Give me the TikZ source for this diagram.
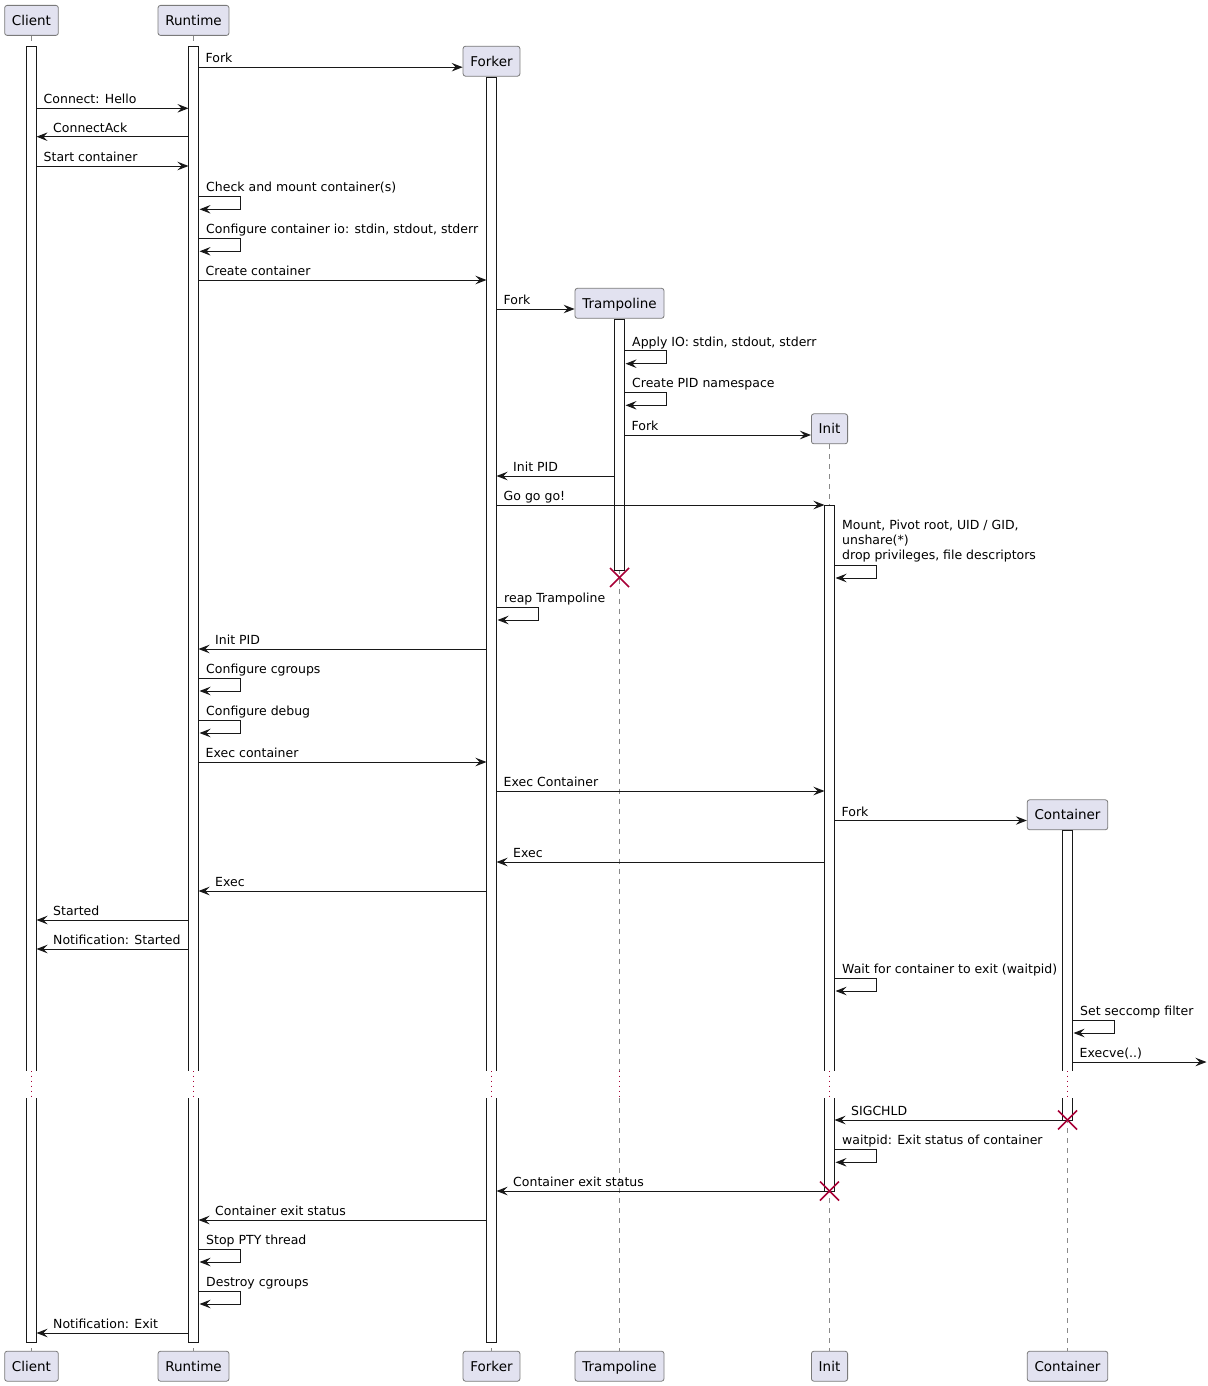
\documentclass[tikz,border=0pt]{standalone}
\usepackage{fontspec}
\setmainfont{DejaVu Sans}
\usetikzlibrary{arrows.meta,calc}
\definecolor{lineC}{HTML}{181818}
\definecolor{boxF}{HTML}{E2E2F0}
\definecolor{boxB}{HTML}{7A7A7A}
\definecolor{lifeC}{HTML}{8A8A8A}
\definecolor{killC}{HTML}{A80036}
% rightward message: name, x-start, x-end, y, label
\newcommand\rmsg[5]{\coordinate (#1s) at (#2,#4); \coordinate (#1e) at (#3,#4); \draw[msg] (#1s) -- (#1e); \node[lbl] (#1t) at (#2+7,#4-4.5) {#5};}
% leftward message: name, x-start, x-end, y, label
\newcommand\lmsg[5]{\coordinate (#1s) at (#2,#4); \coordinate (#1e) at (#3,#4); \draw[msg] (#1s) -- (#1e); \node[lbl] (#1t) at (#3+16.5,#4-4.5) {#5};}
% self message: name, bar right x, y, label
\newcommand\smsg[4]{\coordinate (#1s) at (#2,#3); \coordinate (#1a) at (#2+42,#3); \coordinate (#1b) at (#2+42,#3+13); \coordinate (#1e) at (#2+1,#3+13); \draw[msg] (#1s) -- (#1a) -- (#1b) -- (#1e); \node[lbl] (#1t) at (#2+7.5,#3-4.5) {#4};}
% lifeline: participant prefix
\newcommand\lifeln[1]{\draw[life] (#1T.south) -- (#1T.south |- 0,1070.7); \draw[delayln] (#1T.south |- 0,1070.7) -- (#1T.south |- 0,1098); \draw[life] (#1T.south |- 0,1098) -- (#1B.north);}
% open-bottom bar: x centre, top, bottom
\newcommand\barA[3]{\fill[white] (#1-5,#2) rectangle (#1+5,#3); \draw[barside] (#1-5,#3) -- (#1-5,#2) -- (#1+5,#2) -- (#1+5,#3);}
% open-top bar: x centre, top, bottom
\newcommand\barB[3]{\fill[white] (#1-5,#2) rectangle (#1+5,#3); \draw[barside] (#1-5,#2) -- (#1-5,#3) -- (#1+5,#3) -- (#1+5,#2);}
% closed bar
\newcommand\barC[3]{\filldraw[barside,fill=white] (#1-5,#2) rectangle (#1+5,#3);}
\newcommand\killx[3]{\coordinate (#1) at (#2,#3); \draw[kill] ($(#1)+(-9.5,-9.5)$) -- ($(#1)+(9.5,9.5)$); \draw[kill] ($(#1)+(-9.5,9.5)$) -- ($(#1)+(9.5,-9.5)$);}
\begin{document}
\begin{tikzpicture}[x=1pt,y=-1pt,
  participant/.style={draw=boxB, line width=0.8pt, fill=boxF, rounded corners=2.5pt,
    minimum height=30pt, inner xsep=7.3pt, inner ysep=0pt, text height=9.8pt, text depth=0pt,
    font=\fontsize{13.5}{16}\selectfont},
  msg/.style={draw=lineC, line width=1pt, -{Stealth[length=11pt,width=8.5pt,inset=4pt]}},
  lbl/.style={anchor=base west, inner sep=0pt, font=\fontsize{12.5}{15}\selectfont},
  life/.style={draw=lifeC, line width=0.8pt, dash pattern=on 5pt off 5pt},
  delayln/.style={draw=killC, line width=1pt, dash pattern=on 1pt off 4pt},
  barside/.style={draw=lineC, line width=1pt},
  kill/.style={draw=killC, line width=1.5pt}]
\useasboundingbox (0,0) rectangle (1207,1386);

% participants
\node[participant] (cT) at (31.5,20.4) {Client};
\node[participant] (rT) at (193.5,20.4) {Runtime};
\node[participant] (fT) at (491.5,61.2) {Forker};
\node[participant] (tT) at (619.5,303.3) {Trampoline};
\node[participant] (iT) at (829.5,428.8) {Init};
\node[participant] (kT) at (1067.5,814.8) {Container};
\node[participant] (cB) at (31.5,1366.2) {Client};
\node[participant] (rB) at (193.5,1366.2) {Runtime};
\node[participant] (fB) at (491.5,1366.2) {Forker};
\node[participant] (tB) at (619.5,1366.2) {Trampoline};
\node[participant] (iB) at (829.5,1366.2) {Init};
\node[participant] (kB) at (1067.5,1366.2) {Container};

% lifelines
\lifeln{c}\lifeln{r}\lifeln{f}\lifeln{t}\lifeln{i}\lifeln{k}

% activation bars
\barA{31.5}{46.7}{1070.7}\barB{31.5}{1098}{1342.7}
\barA{193.5}{46.7}{1070.7}\barB{193.5}{1098}{1342.7}
\barA{491.5}{77.3}{1070.7}\barB{491.5}{1098}{1342.7}
\barC{619.5}{319.3}{570.7}
\barA{829.5}{505}{1070.7}\barB{829.5}{1098}{1191}
\barA{1067.5}{830.3}{1070.7}\barB{1067.5}{1098}{1120}

% messages
\coordinate (m1s) at (198.5,67.2); \coordinate (m1e) at ([yshift=-6pt]fT.west);
\draw[msg] (m1s) -- (m1e); \node[lbl] (m1t) at (205.5,62.7) {Fork};
\rmsg{m2}{36.5}{188.5}{108.3}{Connect: Hello}
\lmsg{m3}{188.5}{36.5}{136.7}{ConnectAck}
\rmsg{m4}{36.5}{188.5}{166}{Start container}
\smsg{m5}{198.5}{196.3}{Check and mount container(s)}
\smsg{m6}{198.5}{238.3}{Configure container io: stdin, stdout, stderr}
\rmsg{m7}{198.5}{486.5}{280}{Create container}
\coordinate (m8s) at (496.5,309); \coordinate (m8e) at ([yshift=-5.7pt]tT.west);
\draw[msg] (m8s) -- (m8e); \node[lbl] (m8t) at (503.5,304.5) {Fork};
\smsg{m9}{624.5}{350.7}{Apply IO: stdin, stdout, stderr}
\smsg{m10}{624.5}{392.3}{Create PID namespace}
\coordinate (m11s) at (624.5,435); \coordinate (m11e) at ([yshift=-6.2pt]iT.west);
\draw[msg] (m11s) -- (m11e); \node[lbl] (m11t) at (631.5,430.5) {Fork};
\lmsg{m12}{614.5}{496.5}{476}{Init PID}
\rmsg{m13}{496.5}{824.5}{505}{Go go go!}
\coordinate (m14s) at (834.5,565); \coordinate (m14a) at (876.5,565); \coordinate (m14b) at (876.5,578); \coordinate (m14e) at (835.5,578);
\draw[msg] (m14s) -- (m14a) -- (m14b) -- (m14e);
\node[lbl] (m14t1) at (842,529.3) {Mount, Pivot root, UID / GID,};
\node[lbl] (m14t2) at (842,544.5) {unshare(*)};
\node[lbl] (m14t3) at (842,559.7) {drop privileges, file descriptors};
\killx{xT}{619.5}{577.5}
\smsg{m15}{496.5}{607}{reap Trampoline}
\lmsg{m16}{486.5}{198.5}{649}{Init PID}
\smsg{m17}{198.5}{678}{Configure cgroups}
\smsg{m18}{198.5}{720}{Configure debug}
\rmsg{m19}{198.5}{486.5}{762}{Exec container}
\rmsg{m20}{496.5}{824.5}{791}{Exec Container}
\coordinate (m21s) at (834.5,820.5); \coordinate (m21e) at ([yshift=-5.7pt]kT.west);
\draw[msg] (m21s) -- (m21e); \node[lbl] (m21t) at (841.5,816) {Fork};
\lmsg{m22}{824.5}{496.5}{862}{Exec}
\lmsg{m23}{486.5}{198.5}{891}{Exec}
\lmsg{m24}{188.5}{36.5}{920}{Started}
\lmsg{m25}{188.5}{36.5}{949}{Notification: Started}
\smsg{m26}{834.5}{978}{Wait for container to exit (waitpid)}
\smsg{m27}{1072.5}{1020}{Set seccomp filter}
\rmsg{m28}{1072.5}{1206.5}{1062}{Execve(..)}
\lmsg{m29}{1062.5}{834.5}{1120}{SIGCHLD}
\killx{xK}{1067.5}{1120}
\smsg{m30}{834.5}{1149.3}{waitpid: Exit status of container}
\lmsg{m31}{824.5}{496.5}{1191}{Container exit status}
\killx{xI}{829.5}{1191}
\lmsg{m32}{486.5}{198.5}{1220}{Container exit status}
\smsg{m33}{198.5}{1249}{Stop PTY thread}
\smsg{m34}{198.5}{1291}{Destroy cgroups}
\lmsg{m35}{188.5}{36.5}{1333}{Notification: Exit}
\end{tikzpicture}
\end{document}
